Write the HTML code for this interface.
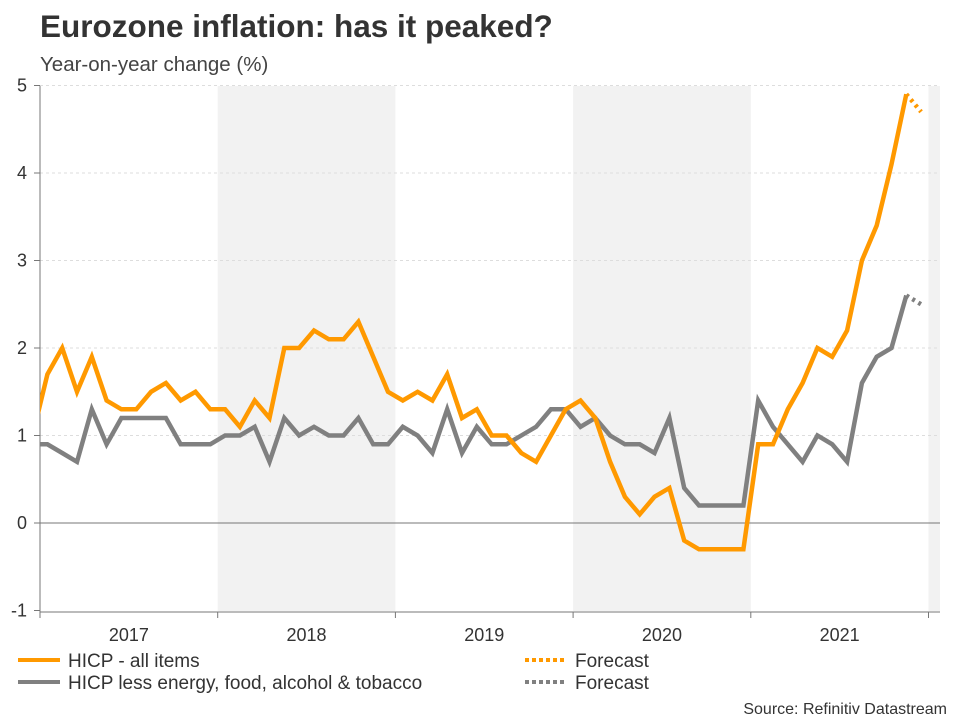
<!DOCTYPE html>
<html><head><meta charset="utf-8">
<style>
body{margin:0;background:#fff;}
svg text{font-family:"Liberation Sans",Arial,sans-serif;}
</style></head>
<body>
<svg id="chart" width="960" height="720" viewBox="0 0 960 720" xmlns="http://www.w3.org/2000/svg">
<text x="40" y="37" font-size="31.5" font-weight="bold" fill="#333">Eurozone inflation: has it peaked?</text>
<text x="40" y="71" font-size="20.5" fill="#444">Year-on-year change (%)</text>
<g id="plot"></g>
<g>
<line x1="18" y1="660" x2="60" y2="660" stroke="#ff9900" stroke-width="4"/>
<text x="68" y="667" font-size="19" fill="#333">HICP - all items</text>
<line x1="18" y1="682" x2="60" y2="682" stroke="#808080" stroke-width="4"/>
<text x="68" y="689" font-size="19" fill="#333">HICP less energy, food, alcohol &amp; tobacco</text>
<line x1="525" y1="660" x2="567" y2="660" stroke="#ff9900" stroke-width="4" stroke-dasharray="4,3"/>
<text x="575" y="667" font-size="19" fill="#333">Forecast</text>
<line x1="525" y1="682" x2="567" y2="682" stroke="#808080" stroke-width="4" stroke-dasharray="4,3"/>
<text x="575" y="689" font-size="19" fill="#333">Forecast</text>
</g>
<text x="947" y="714" font-size="16" fill="#333" text-anchor="end">Source: Refinitiv Datastream</text>
</svg>
<script>
// months from Dec 2016 (index -1) to Nov 2021
const years = ['2017','2018','2019','2020','2021'];
const yTicks = [-1,0,1,2,3,4,5];
const hicp = [1.0,
 1.7,2.0,1.5,1.9,1.4,1.3,1.3,1.5,1.6,1.4,1.5,1.3,
 1.3,1.1,1.4,1.2,2.0,2.0,2.2,2.1,2.1,2.3,1.9,1.5,
 1.4,1.5,1.4,1.7,1.2,1.3,1.0,1.0,0.8,0.7,1.0,1.3,
 1.4,1.2,0.7,0.3,0.1,0.3,0.4,-0.2,-0.3,-0.3,-0.3,-0.3,
 0.9,0.9,1.3,1.6,2.0,1.9,2.2,3.0,3.4,4.1,4.9];
const core = [0.9,
 0.9,0.8,0.7,1.3,0.9,1.2,1.2,1.2,1.2,0.9,0.9,0.9,
 1.0,1.0,1.1,0.7,1.2,1.0,1.1,1.0,1.0,1.2,0.9,0.9,
 1.1,1.0,0.8,1.3,0.8,1.1,0.9,0.9,1.0,1.1,1.3,1.3,
 1.1,1.2,1.0,0.9,0.9,0.8,1.2,0.4,0.2,0.2,0.2,0.2,
 1.4,1.1,0.9,0.7,1.0,0.9,0.7,1.6,1.9,2.0,2.6];
const hicpForecast = [4.9,4.7];
const coreForecast = [2.6,2.5];

const NS='http://www.w3.org/2000/svg';
const X0=40, X1=940, YW=177.7, MW=YW/12;
const yScale=v=>523-v*87.5;
const xScale=i=>X0+(i+0.5)*MW;
const plot=document.getElementById('plot');
function mk(tag,attrs,parent){const e=document.createElementNS(NS,tag);for(const k in attrs)e.setAttribute(k,attrs[k]);(parent||plot).appendChild(e);return e;}

const defs=mk('defs',{});
const cp=mk('clipPath',{id:'clip'},defs);
mk('rect',{x:X0,y:60,width:X1-X0,height:560},cp);

for(let k=1;k<=5;k+=2){
  const b=mk('rect',{x:X0+k*YW,y:86,width:Math.min(YW,X1-(X0+k*YW)),height:525,fill:'#f2f2f2'});
  
  
}
yTicks.forEach(v=>{
  const y=yScale(v);
  if(v!==0&&v!==-1){const g=mk('line',{x1:X0,x2:X1,y1:y,y2:y,stroke:'#ddd','stroke-width':1,'stroke-dasharray':'3,3'});
    
    }
  const t=mk('line',{x1:34,x2:X0,y1:y,y2:y,stroke:'#777','stroke-width':1});
  
  
  const l=mk('text',{x:27,y:y+6,'font-size':18,fill:'#333','text-anchor':'end'});
  l.textContent=v;
  
  
});
const zl=mk('line',{x1:X0,x2:X1,y1:yScale(0),y2:yScale(0),stroke:'#777','stroke-width':1});


const ya=mk('line',{x1:X0,x2:X0,y1:86,y2:612,stroke:'#777','stroke-width':1});


const xa=mk('line',{x1:X0,x2:X1,y1:612,y2:612,stroke:'#777','stroke-width':1});


for(let k=0;k<=years.length;k++){
  const x=X0+k*YW;
  const t=mk('line',{x1:x,x2:x,y1:612,y2:618,stroke:'#777','stroke-width':1});
  
  
}
years.forEach((yr,k)=>{
  const l=mk('text',{x:X0+(k+0.5)*YW,y:641,'font-size':18,fill:'#333','text-anchor':'middle'});
  l.textContent=yr;
  
  
});
function line(vals,start,color,dash,name){
  const pts=vals.map((v,i)=>xScale(i+start).toFixed(1)+','+yScale(v).toFixed(1)).join(' ');
  const p=mk('polyline',{points:pts,fill:'none',stroke:color,'stroke-width':4.5,'stroke-linejoin':'miter','clip-path':'url(#clip)'});
  if(dash)p.setAttribute('stroke-dasharray',dash);
  
  
}
line(core,-1,'#808080',null,'core-line');
line(hicp,-1,'#ff9900',null,'hicp-line');
line(coreForecast,hicp.length-2,'#808080','3,4','core-forecast-line');
line(hicpForecast,hicp.length-2,'#ff9900','3,4','hicp-forecast-line');
</script>
</body></html>
